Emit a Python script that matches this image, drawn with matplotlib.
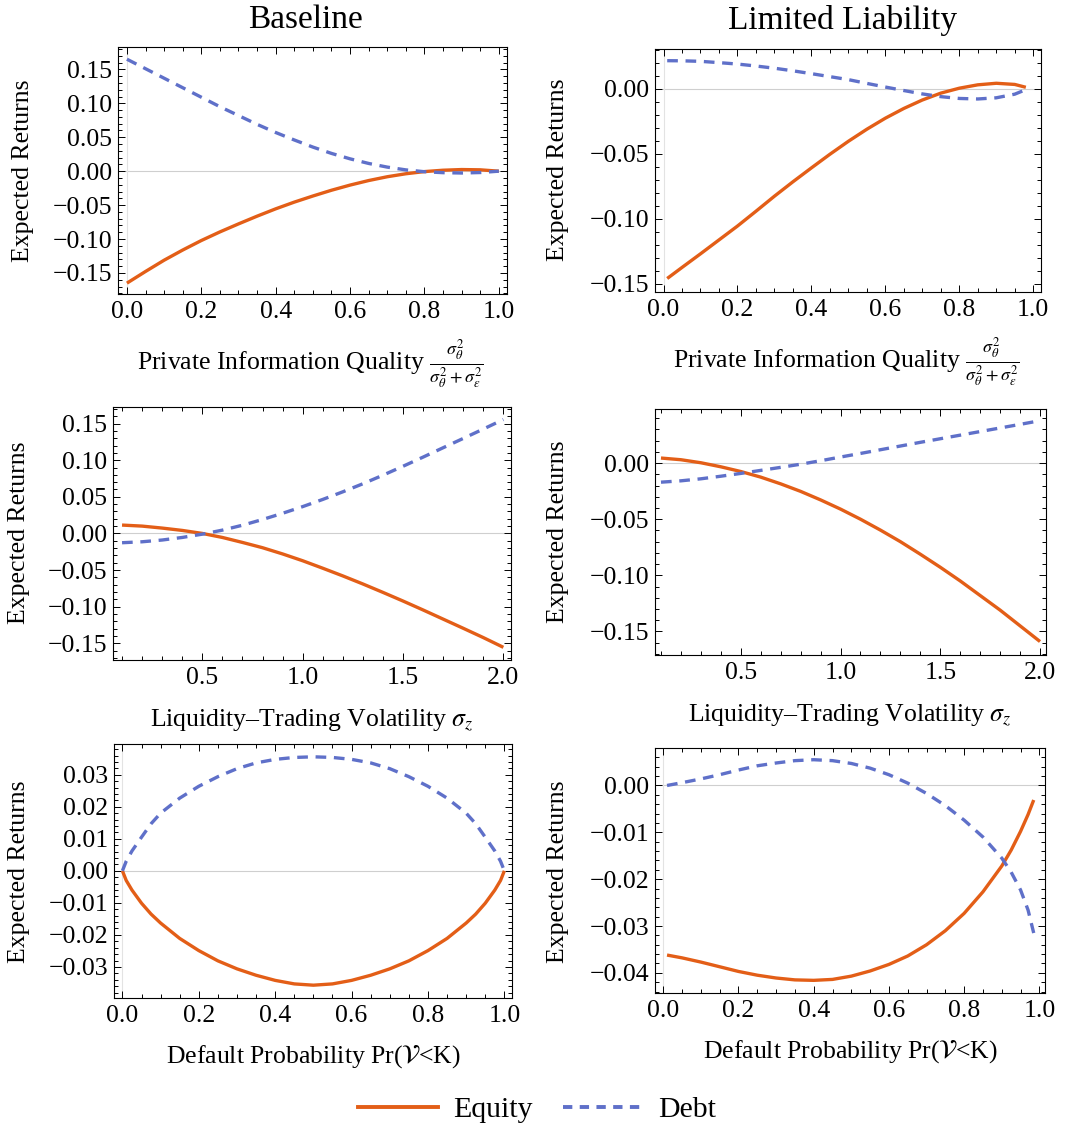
import numpy as np
import matplotlib.pyplot as plt
from matplotlib.ticker import MultipleLocator, FuncFormatter
from matplotlib.lines import Line2D

plt.rcParams['font.family'] = ['Liberation Serif', 'DejaVu Serif']
plt.rcParams['mathtext.fontset'] = 'stix'

EQUITY_COLOR = '#E35E17'
DEBT_COLOR = '#5F70C9'

# --- private information quality ---
info_x = [0.0, 0.05, 0.1, 0.15, 0.2, 0.25, 0.3, 0.35, 0.4, 0.45, 0.5,
          0.55, 0.6, 0.65, 0.7, 0.75, 0.8, 0.85, 0.9, 0.95, 1.0]
base_info_equity = [-0.165, -0.1478, -0.1312, -0.1162, -0.1022, -0.0895, -0.0777,
                    -0.0663, -0.0555, -0.0456, -0.0366, -0.0281, -0.0205, -0.0138,
                    -0.0082, -0.0038, -0.0006, 0.0014, 0.0024, 0.002, 0.0]
base_info_debt = [0.165, 0.151, 0.137, 0.123, 0.109, 0.095, 0.082, 0.069,
                  0.057, 0.046, 0.0355, 0.0262, 0.0182, 0.0114, 0.006, 0.0019,
                  -0.0008, -0.0022, -0.0027, -0.002, 0.0]

ll_info_x = [0.01, 0.05, 0.1, 0.15, 0.2, 0.25, 0.3, 0.35, 0.4, 0.45, 0.5,
             0.55, 0.6, 0.65, 0.7, 0.75, 0.8, 0.85, 0.9, 0.95, 0.98]
ll_info_equity = [-0.146, -0.1375, -0.127, -0.1163, -0.1056, -0.0942, -0.0826,
                  -0.0715, -0.0608, -0.0503, -0.0403, -0.031, -0.0225, -0.015,
                  -0.0085, -0.0032, 0.0006, 0.0032, 0.0044, 0.0035, 0.0013]
ll_info_debt = [0.0218, 0.0217, 0.0213, 0.0203, 0.0192, 0.0177, 0.016, 0.014,
                0.0118, 0.0095, 0.0072, 0.0043, 0.0015, -0.0012, -0.0038,
                -0.0059, -0.0073, -0.0077, -0.0068, -0.004, -0.0005]

# --- liquidity-trading volatility ---
sigz_x = [0.1, 0.2, 0.3, 0.4, 0.5, 0.6, 0.7, 0.8, 0.9, 1.0, 1.1, 1.2, 1.3,
          1.4, 1.5, 1.6, 1.7, 1.8, 1.9, 2.0]
base_sigz_equity = [0.0114, 0.010, 0.0073, 0.0041, 0.0, -0.0055, -0.0123,
                    -0.0195, -0.028, -0.0373, -0.0475, -0.058, -0.069, -0.0805,
                    -0.0923, -0.1045, -0.117, -0.1295, -0.1422, -0.1555]
base_sigz_debt = [-0.0127, -0.0114, -0.009, -0.0055, -0.001, 0.0045, 0.0112,
                  0.019, 0.0275, 0.0366, 0.0464, 0.0568, 0.0678, 0.0795, 0.0917,
                  0.1042, 0.117, 0.1297, 0.1425, 0.1555]
ll_sigz_equity = [0.0045, 0.003, 0.0003, -0.0033, -0.0075, -0.0125, -0.0185,
                  -0.0252, -0.0328, -0.041, -0.050, -0.0597, -0.070, -0.0812,
                  -0.0928, -0.105, -0.118, -0.131, -0.145, -0.159]
ll_sigz_debt = [-0.017, -0.0158, -0.014, -0.0117, -0.0092, -0.0065, -0.0038,
                -0.001, 0.0021, 0.0054, 0.0086, 0.0119, 0.0152, 0.0185,
                0.0217, 0.0249, 0.0281, 0.0313, 0.0345, 0.0378]

# --- default probability ---
pd_x = [0.0, 0.01, 0.025, 0.05, 0.075, 0.1, 0.15, 0.2, 0.25, 0.3, 0.35, 0.4,
        0.45, 0.5, 0.55, 0.6, 0.65, 0.7, 0.75, 0.8, 0.85, 0.9, 0.925, 0.95,
        0.975, 0.99, 1.0]
base_pd_equity = [0.0, -0.003, -0.006, -0.0101, -0.0135, -0.0163, -0.0211,
                  -0.0249, -0.0281, -0.0306, -0.0326, -0.0342, -0.0353, -0.0357,
                  -0.0353, -0.0342, -0.0326, -0.0306, -0.0281, -0.0249,
                  -0.0211, -0.0163, -0.0135, -0.0101, -0.006, -0.003, 0.0]
base_pd_debt = [0.0, 0.003, 0.0062, 0.0105, 0.0147, 0.018, 0.0227, 0.0264,
                0.0294, 0.0319, 0.0337, 0.0348, 0.0354, 0.0356, 0.0354, 0.0348,
                0.0337, 0.0319, 0.0294, 0.0264, 0.0227, 0.018, 0.0147, 0.0105,
                0.0062, 0.003, 0.0]

ll_pd_x = [0.01, 0.05, 0.1, 0.15, 0.2, 0.25, 0.3, 0.35, 0.4, 0.45, 0.5, 0.55,
           0.6, 0.65, 0.7, 0.75, 0.8, 0.85, 0.9, 0.925, 0.95, 0.97, 0.985]
ll_pd_equity = [-0.0362, -0.0368, -0.0377, -0.0387, -0.0397, -0.0405, -0.0411,
                -0.0415, -0.0416, -0.0414, -0.0407, -0.0396, -0.0382, -0.0364,
                -0.034, -0.031, -0.0273, -0.0227, -0.0172, -0.0138, -0.0098,
                -0.0062, -0.0031]
ll_pd_debt = [0.0, 0.0006, 0.0014, 0.0023, 0.0033, 0.0042, 0.0048, 0.0053,
              0.0055, 0.0053, 0.0047, 0.0037, 0.0023, 0.0005, -0.0017, -0.0043,
              -0.0074, -0.011, -0.0155, -0.0185, -0.0223, -0.0266, -0.0315]

W, H = 1073, 1127
fig = plt.figure(figsize=(W / 100, H / 100), dpi=100)


def px_axes(left, top, right, bottom):
    return fig.add_axes([left / W, 1 - bottom / H, (right - left) / W, (bottom - top) / H])


def fig_text(x, y, s, **kw):
    fig.text(x / W, 1 - y / H, s, ha='center', va='center', **kw)


def tick_fmt(decimals):
    # fixed decimals with a proper minus sign
    def fmt(v, pos):
        s = f'{v:.{decimals}f}'
        if float(s) == 0:
            s = s.lstrip('-')
        return s.replace('-', '\u2212')
    return FuncFormatter(fmt)


def draw_panel(ax, x, equity, debt, xlim, ylim, xticks, yticks):
    ax.plot(x, equity, color=EQUITY_COLOR, lw=2.4, solid_capstyle='butt',
            solid_joinstyle='round', zorder=3)
    ax.plot(x, debt, color=DEBT_COLOR, lw=2.4, dashes=(3.2, 2.3), zorder=4)
    ax.axhline(0, color='#cfcfcf', lw=0.8, zorder=1)
    if xlim[0] < 0:
        ax.axvline(0, color='#e3e3e3', lw=0.8, zorder=1)
    ax.set_xlim(*xlim)
    ax.set_ylim(*ylim)
    ax.xaxis.set_major_locator(MultipleLocator(xticks[0]))
    ax.xaxis.set_minor_locator(MultipleLocator(xticks[1]))
    ax.yaxis.set_major_locator(MultipleLocator(yticks[0]))
    ax.yaxis.set_minor_locator(MultipleLocator(yticks[1]))
    ax.xaxis.set_major_formatter(tick_fmt(1))
    ax.yaxis.set_major_formatter(tick_fmt(2))
    ax.tick_params(which='both', direction='in', top=True, right=True,
                   width=0.7, labelsize=18.5)
    ax.tick_params(which='major', length=5)
    ax.tick_params(which='minor', length=2.8)
    ax.tick_params(axis='x', pad=5)
    ax.tick_params(axis='y', pad=4)
    for sp in ax.spines.values():
        sp.set_linewidth(0.8)


ax1 = px_axes(118, 47, 507, 294)
draw_panel(ax1, info_x, base_info_equity, base_info_debt, (-0.024, 1.022),
           (-0.181, 0.183), (0.2, 0.05), (0.05, 0.01))
ax2 = px_axes(655, 49, 1041, 292)
draw_panel(ax2, ll_info_x, ll_info_equity, ll_info_debt, (-0.023, 1.021),
           (-0.1564, 0.0308), (0.2, 0.05), (0.05, 0.01))
ax3 = px_axes(113, 407, 511, 660)
draw_panel(ax3, sigz_x, base_sigz_equity, base_sigz_debt, (0.055, 2.038),
           (-0.1728, 0.1726), (0.5, 0.1), (0.05, 0.01))
ax4 = px_axes(655, 409, 1046, 655)
draw_panel(ax4, sigz_x, ll_sigz_equity, ll_sigz_debt, (0.07, 2.03),
           (-0.171, 0.0482), (0.5, 0.1), (0.05, 0.01))
ax5 = px_axes(114, 744, 512, 998)
draw_panel(ax5, pd_x, base_pd_equity, base_pd_debt, (-0.022, 1.02),
           (-0.0397, 0.0396), (0.2, 0.05), (0.01, 0.002))
ax6 = px_axes(655, 748, 1045, 993)
draw_panel(ax6, ll_pd_x, ll_pd_equity, ll_pd_debt, (-0.022, 1.015),
           (-0.0443, 0.008), (0.2, 0.05), (0.01, 0.002))

# column titles
fig_text(305, 20, 'Baseline', fontsize=24)
fig_text(843, 20, 'Limited Liability', fontsize=24)

# y labels
for xp, yp in [(23, 171), (558, 170), (19, 533), (558, 532), (19, 872), (558, 872)]:
    fig_text(xp, yp, 'Expected Returns', fontsize=18.5, rotation=90)

# x labels
info_label = (r'Private Information Quality '
              r'$\frac{\sigma_\theta^2}{\sigma_\theta^2+\sigma_\varepsilon^2}$')
sigz_label = 'Liquidity\u2013Trading Volatility $\\sigma_z$'
pd_label = 'Default Probability Pr($\\mathcal{V}$<K)'
fig_text(310, 364, info_label, fontsize=18.5)
fig_text(846, 362, info_label, fontsize=18.5)
fig_text(312, 720, sigz_label, fontsize=18.5)
fig_text(850, 715, sigz_label, fontsize=18.5)
fig_text(313, 1057, pd_label, fontsize=18.5)
fig_text(850, 1052, pd_label, fontsize=18.5)

handles = [Line2D([], [], color=EQUITY_COLOR, lw=2.8),
           Line2D([], [], color=DEBT_COLOR, lw=2.8, dashes=(2.4, 1.9))]
fig.legend(handles, ['Equity', 'Debt'], loc='center', ncol=2,
           bbox_to_anchor=(537 / W, 1 - 1110 / H), frameon=False,
           fontsize=21.5, handlelength=2.7, handletextpad=0.5, columnspacing=1.0)

fig.savefig('out.png', dpi=100)
